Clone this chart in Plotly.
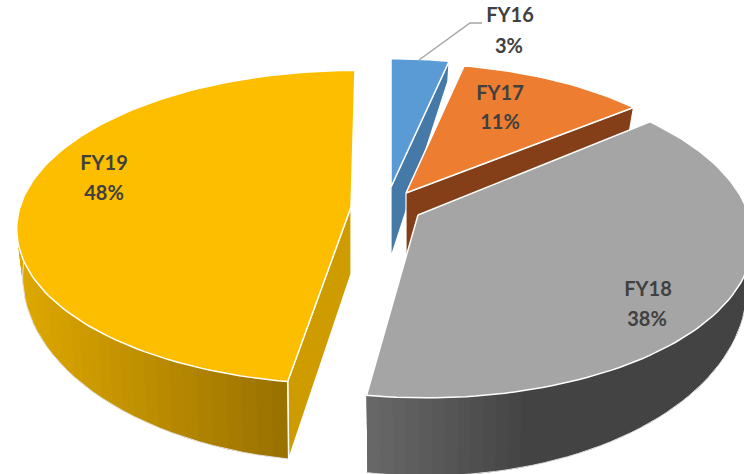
import math
import plotly.graph_objects as go

# --- data ---
categories = ["FY16", "FY17", "FY18", "FY19"]
shares = [3.3, 10.8, 38.4, 47.5]

# --- styling / geometry of the exploded 3-D pie ---
top_colors = ["#5b9bd5", "#ed7d31", "#a5a5a5", "#fdbe00"]
wall_colors = ["#4579a8", "#843f18", None, "#cf9c00"]
apexes = [(391, 187), (406, 193), (418, 215), (351, 207)]
scales_x = [0.96, 0.96, 1.0, 1.0]
scales_y = [0.95, 0.96, 1.045, 1.012]
shears = [0, 0, -8, 4]
apex_depths = [70, 62, 60, 67]
label_xy = [(510, 17, 509, 48), (500, 95, 500, 124), (648, 291, 647, 321), (104, 165, 104, 195)]
A, B, K = 331.0, 152.4, 0.129


def rim(theta, i):
    X, Y = math.sin(theta), math.cos(theta)
    w = 1 + K * Y
    ax, ay = apexes[i]
    return ax + scales_x[i] * A * X / w + shears[i] * Y, ay - scales_y[i] * B * Y / w, X, Y


def depth(Y):
    return 42.5 - 29 * Y + 6.5 * Y * Y


def lower(theta, i):
    x, y, X, Y = rim(theta, i)
    return x - 6 * X, y + depth(Y)


def mix(stops, x):
    if x <= stops[0][0]:
        return stops[0][1]
    for (x0, c0), (x1, c1) in zip(stops, stops[1:]):
        if x <= x1:
            t = (x - x0) / (x1 - x0)
            return tuple(round(a + (b - a) * t) for a, b in zip(c0, c1))
    return stops[-1][1]


side_stops = {
    2: [(367, (104, 104, 104)), (530, (67, 67, 67)), (744, (67, 67, 67))],
    3: [(20, (222, 168, 0)), (288, (152, 112, 0))],
}

# slice angle ranges, from the shares
total = sum(shares)
ranges = []
acc = 0.0
for v in shares:
    ranges.append((acc / total * 2 * math.pi, (acc + v) / total * 2 * math.pi))
    acc += v

fig = go.Figure()


def poly(xs, ys, fill, line="white", width=1.5):
    fig.add_trace(go.Scatter(
        x=xs, y=ys, mode="lines", fill="toself", fillcolor=fill,
        line=dict(color=line, width=width), hoverinfo="skip", showlegend=False))


draw_order = [0, 1, 3, 2]
for i in draw_order:
    a0, a1 = ranges[i]
    ax, ay = apexes[i]
    # flat cut wall
    if wall_colors[i]:
        edge = a1 if i in (0, 1) else a0
        x, y, X, Y = rim(edge, i)
        xb, yb = lower(edge, i)
        poly([ax, x, xb, ax, ax], [ay, y, yb, ay + apex_depths[i], ay], wall_colors[i], width=1.2)
    # curved side, shaded piecewise; each piece runs on past the next seam
    if i in side_stops:
        n = 70
        sweep = a1 - a0
        if i == 2:
            seq = list(range(n))            # left-to-right overlap handled below
        else:
            seq = list(range(n))
        outline_x, outline_y = [], []
        for k in seq:
            t0 = a0 + sweep * k / n
            t1 = a0 + sweep * (k + 1) / n
            t2 = a0 + sweep * min(k + 3, n) / n
            x0, y0, _, Y0 = rim(t0, i)
            x1, y1, _, Y1 = rim(t1, i)
            if min(Y0, Y1) > 0.25:
                continue
            r, g, b = mix(side_stops[i], (x0 + x1) / 2)
            col = f"rgb({r},{g},{b})"
            m2 = [t0 + (t2 - t0) * q / 3 for q in range(4)]
            up = [rim(t, i) for t in m2]
            lo = [lower(t, i) for t in m2]
            xs = [p[0] for p in up] + [p[0] for p in reversed(lo)] + [up[0][0]]
            ys = [p[1] for p in up] + [p[1] for p in reversed(lo)] + [up[0][1]]
            fig.add_trace(go.Scatter(x=xs, y=ys, mode="lines", fill="toself", fillcolor=col,
                                     line=dict(width=0, color=col), hoverinfo="skip", showlegend=False))
            bx0, by0 = lower(t0, i)
            bx1, by1 = lower(t1, i)
            outline_x += [bx0, bx1]
            outline_y += [by0, by1]
        fig.add_trace(go.Scatter(x=outline_x, y=outline_y, mode="lines",
                                 line=dict(color="#e4e4e4", width=1), hoverinfo="skip", showlegend=False))
        # vertical edge at the slice's front corner
        x, y, X, Y = rim(a0, i)
        xb, yb = lower(a0, i)
        fig.add_trace(go.Scatter(x=[x, xb], y=[y, yb], mode="lines",
                                 line=dict(color="white", width=1.5), hoverinfo="skip", showlegend=False))
    # top face
    m = max(12, int((a1 - a0) / math.radians(1.5)))
    pts = [rim(a0 + (a1 - a0) * k / m, i) for k in range(m + 1)]
    poly([ax] + [p[0] for p in pts] + [ax], [ay] + [p[1] for p in pts] + [ay], top_colors[i])

# leader line of the smallest slice
leader_x = [419, 470, 482]
leader_y = [60, 23, 23]
fig.add_trace(go.Scatter(x=leader_x, y=leader_y, mode="lines",
                         line=dict(color="#a6a6a6", width=1.5), hoverinfo="skip", showlegend=False))

# data labels
font = dict(family="Lato, Carlito, sans-serif", size=20, color="#404040", weight=700)
fig.add_trace(go.Scatter(x=[p[0] for p in label_xy], y=[p[1] for p in label_xy], mode="text",
                         text=[f"<b>{c}</b>" for c in categories], textfont=font,
                         textposition="middle center", hoverinfo="skip", showlegend=False, cliponaxis=False))
fig.add_trace(go.Scatter(x=[p[2] for p in label_xy], y=[p[3] for p in label_xy], mode="text",
                         text=[f"<b>{round(v)}%</b>" for v in shares], textfont=font,
                         textposition="middle center", hoverinfo="skip", showlegend=False, cliponaxis=False))

fig.update_layout(
    width=744, height=474, margin=dict(l=0, r=0, t=0, b=0),
    paper_bgcolor="white", plot_bgcolor="white", showlegend=False,
    xaxis=dict(range=[0, 744], visible=False, fixedrange=True),
    yaxis=dict(range=[474, 0], visible=False, fixedrange=True),
)
fig.write_html("out.html", config=dict(displayModeBar=False),
               post_script="document.body.style.margin='0';document.body.style.overflow='hidden';")
